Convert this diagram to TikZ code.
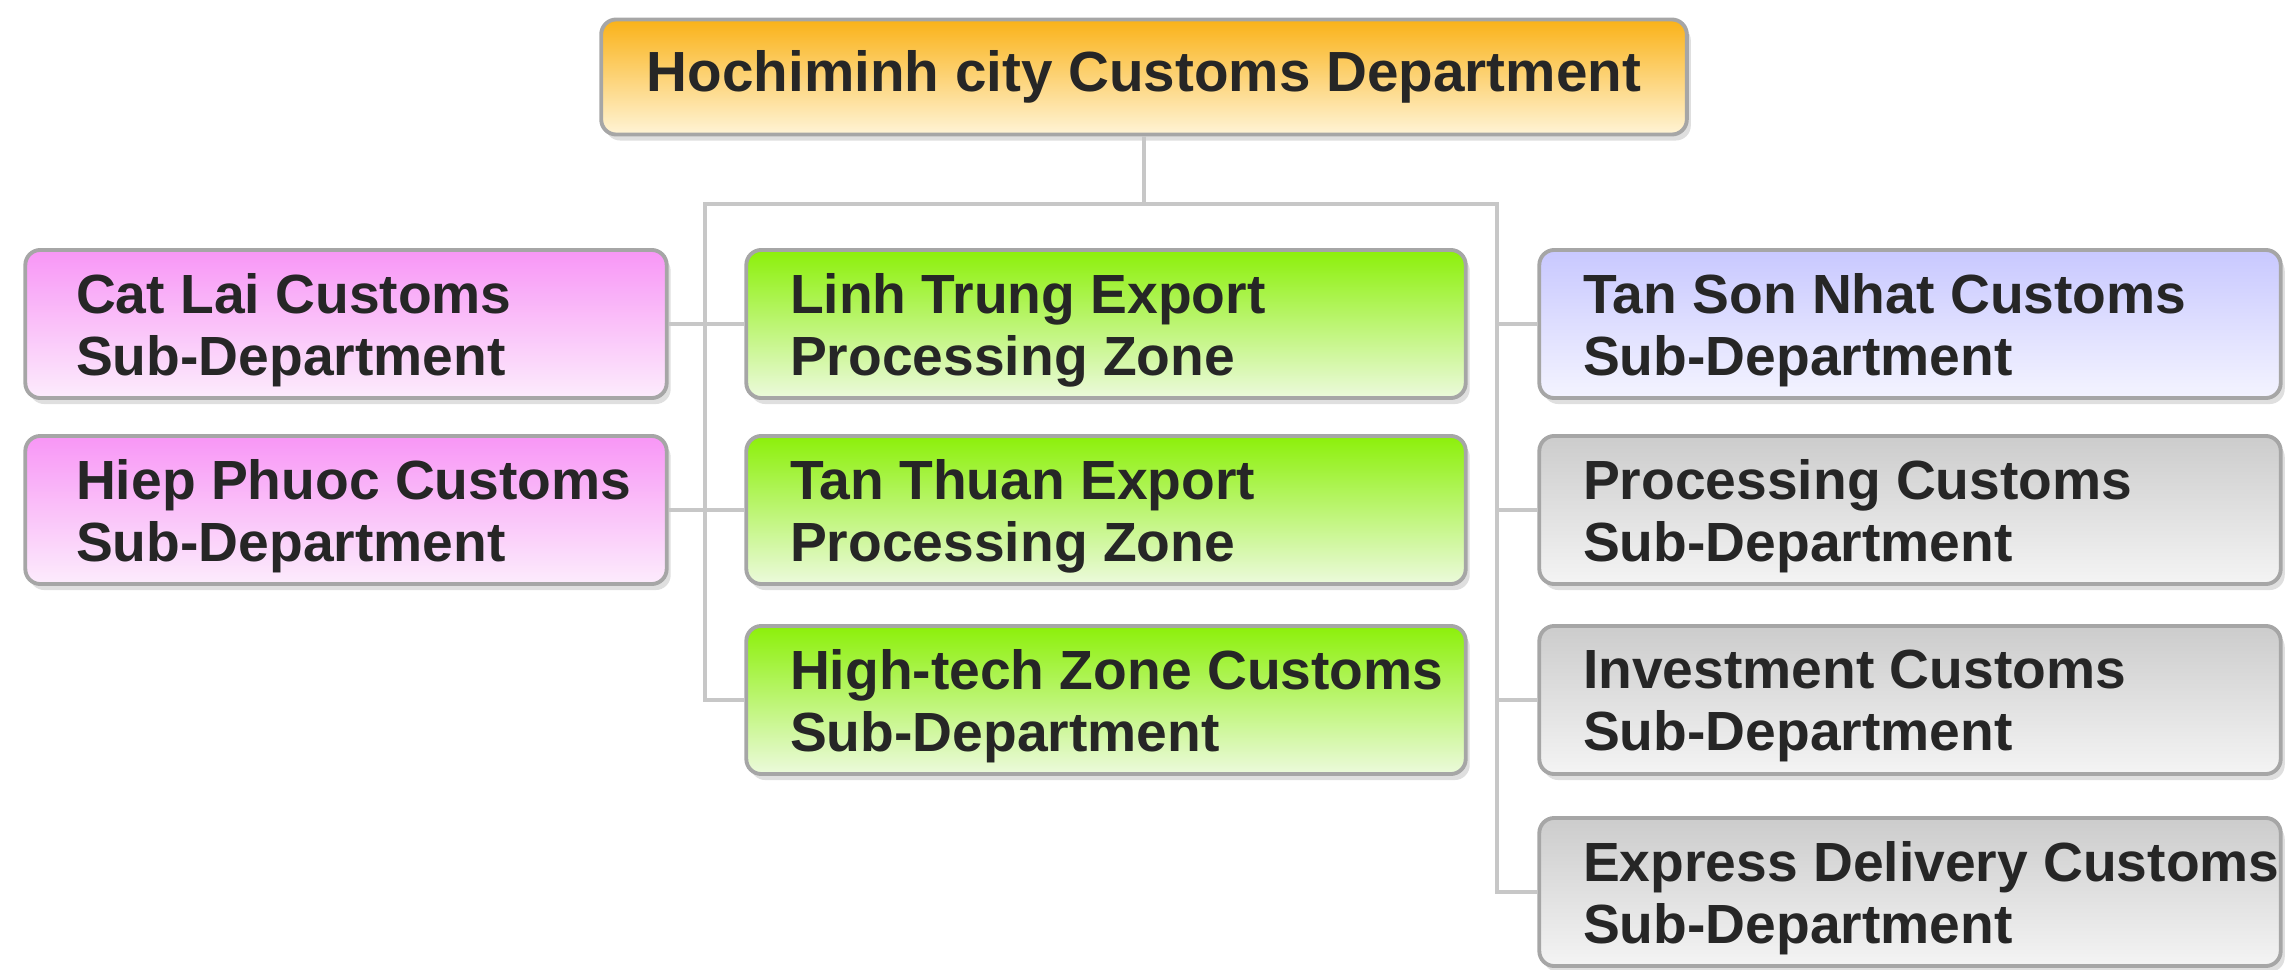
\documentclass[tikz,border=0pt]{standalone}
\usepackage{fontspec}
\setmainfont{Liberation Sans}
\usepackage{tikz}
\usetikzlibrary{shadows}
\definecolor{hcmtop}{RGB}{250,178,24}
\definecolor{hcmbot}{RGB}{255,244,214}
\definecolor{pinktop}{RGB}{248,150,246}
\definecolor{pinkbot}{RGB}{252,236,252}
\definecolor{greentop}{RGB}{140,240,10}
\definecolor{greenbot}{RGB}{236,250,220}
\definecolor{bluetop}{RGB}{200,200,255}
\definecolor{bluebot}{RGB}{244,244,255}
\definecolor{greytop}{RGB}{204,204,204}
\definecolor{greybot}{RGB}{244,244,244}

\begin{document}
\begin{tikzpicture}[x=0.01cm,y=-0.01cm,
  link/.style={draw=black!22, line width=1.4pt},
  unit/.style={rectangle, rounded corners=0.15cm, draw=black!35, line width=1.1pt,
    minimum height=1.48cm, inner sep=0pt,
    drop shadow={shadow xshift=0.04cm, shadow yshift=-0.06cm, opacity=0.25}},
  txt/.style={anchor=west, xshift=0.45cm, yshift=-0.06cm, align=left, inner sep=0pt, text=black!85,
    font=\bfseries\fontsize{15.7}{17.6}\selectfont},
  pinkunit/.style={unit, minimum width=6.41cm, top color=pinktop, bottom color=pinkbot},
  greenunit/.style={unit, minimum width=7.19cm, top color=greentop, bottom color=greenbot},
  blueunit/.style={unit, minimum width=7.41cm, top color=bluetop, bottom color=bluebot},
  greyunit/.style={unit, minimum width=7.41cm, top color=greytop, bottom color=greybot}]
\useasboundingbox (0,0) rectangle (2285,970);
\def\XL{346};\def\XM{1106};\def\XR{1910};
\def\YA{324};\def\YB{510};\def\YC{700};\def\YD{892};
\coordinate (busL) at (705,204);
\coordinate (busR) at (1497,204);
% head office
\node[unit, minimum width=10.85cm, minimum height=1.15cm, top color=hcmtop, bottom color=hcmbot,
  text=black!85, font=\bfseries\fontsize{16.1}{17.6}\selectfont] (hcm) at (1144,77)
  {Hochiminh city Customs Department};
% left column
\node[pinkunit, label={[txt,xshift=0.07cm]west:Cat Lai Customs\\Sub-Department}] (catlai) at (\XL,\YA) {};
\node[pinkunit, label={[txt,xshift=0.07cm]west:Hiep Phuoc Customs\\Sub-Department}] (hiepphuoc) at (\XL,\YB) {};
% middle column
\node[greenunit, label={[txt]west:Linh Trung Export\\Processing Zone}] (linhtrung) at (\XM,\YA) {};
\node[greenunit, label={[txt]west:Tan Thuan Export\\Processing Zone}] (tanthuan) at (\XM,\YB) {};
\node[greenunit, label={[txt]west:High-tech Zone Customs\\Sub-Department}] (hitech) at (\XM,\YC) {};
% right column
\node[blueunit, label={[txt]west:Tan Son Nhat Customs\\Sub-Department}] (tsn) at (\XR,\YA) {};
\node[greyunit, label={[txt]west:Processing Customs\\Sub-Department}] (proc) at (\XR,\YB) {};
\node[greyunit, label={[txt]west:Investment Customs\\Sub-Department}] (invest) at (\XR,\YC) {};
\node[greyunit, label={[txt]west:Express Delivery Customs\\Sub-Department}] (express) at (\XR,\YD) {};
% connectors
\draw[link] (hcm.south) -- (hcm.south |- busL);
\draw[link] (hitech.west) -- (busL |- hitech.west) -- (busL) -- (busR) -- (busR |- express.west) -- (express.west);
\draw[link] (catlai.east) -- (linhtrung.west);
\draw[link] (hiepphuoc.east) -- (tanthuan.west);
\foreach \n in {tsn,proc,invest} \draw[link] (busR |- \n.west) -- (\n.west);
\end{tikzpicture}
\end{document}
